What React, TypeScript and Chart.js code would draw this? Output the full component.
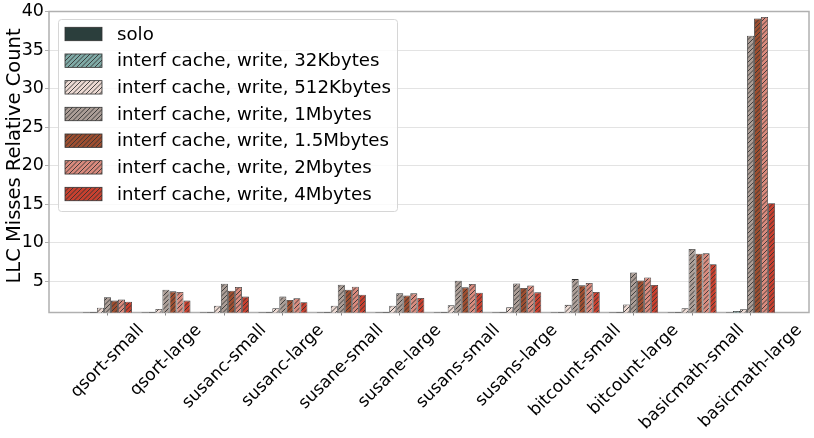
import React, { useEffect, useRef } from 'react';
import { Chart, registerables } from 'chart.js';

Chart.register(...registerables);

const categories = [
  'qsort-small', 'qsort-large', 'susanc-small', 'susanc-large',
  'susane-small', 'susane-large', 'susans-small', 'susans-large',
  'bitcount-small', 'bitcount-large', 'basicmath-small', 'basicmath-large',
];

const seriesNames = [
  'solo',
  'interf cache, write, 32Kbytes',
  'interf cache, write, 512Kbytes',
  'interf cache, write, 1Mbytes',
  'interf cache, write, 1.5Mbytes',
  'interf cache, write, 2Mbytes',
  'interf cache, write, 4Mbytes',
];

const solo = [1, 1, 1, 1, 1, 1, 1, 1, 1, 1, 1, 1];
const write32K = [1.02, 1.02, 1.02, 1.02, 1.02, 1.02, 1.02, 1.02, 1.02, 1.02, 1.02, 1.18];
const write512K = [1.6, 1.44, 1.86, 1.52, 1.86, 1.86, 1.9, 1.65, 1.96, 2.0, 1.53, 1.4];
const write1M = [2.94, 3.93, 4.7, 3.03, 4.57, 3.45, 5.09, 4.74, 5.3, 6.16, 9.2, 36.85];
const write1_5M = [2.51, 3.71, 3.8, 2.6, 3.93, 3.19, 4.23, 4.15, 4.49, 5.13, 8.6, 39.1];
const write2M = [2.64, 3.63, 4.28, 2.81, 4.31, 3.45, 4.66, 4.48, 4.79, 5.51, 8.65, 39.3];
const write4M = [2.38, 2.51, 3.03, 2.29, 3.28, 2.86, 3.54, 3.58, 3.63, 4.53, 7.23, 15.15];

const yTicks = [5, 10, 15, 20, 25, 30, 35, 40];
const yTitle = 'LLC Misses Relative Count';

const seriesValues = [solo, write32K, write512K, write1M, write1_5M, write2M, write4M];
const seriesColors = ['#2b3e3c', '#7faaa6', '#ecd9d2', '#ab9d96', '#9d4e30', '#d98a7d', '#c8402f'];
const seriesHatched = [false, true, true, true, true, true, true];

const FONT = "'DejaVu Sans', sans-serif";
const EDGE = '#333333';
const SPINE = '#b0b0b0';

function makeHatch(bg: string): CanvasPattern | string {
  const c = document.createElement('canvas');
  c.width = 9;
  c.height = 9;
  const g = c.getContext('2d');
  if (!g) return bg;
  g.fillStyle = bg;
  g.fillRect(0, 0, 9, 9);
  g.strokeStyle = EDGE;
  g.lineWidth = 0.9;
  for (const k of [0, 4.5, 9, 13.5, 18]) {
    g.beginPath();
    g.moveTo(-2, k + 2);
    g.lineTo(11, k - 11);
    g.stroke();
  }
  const p = g.createPattern(c, 'repeat');
  return p || bg;
}

const framePlugin = {
  id: 'frameAndLabels',
  beforeDatasetsDraw(chart: any) {
    const { ctx, chartArea } = chart;
    ctx.save();
    ctx.strokeStyle = SPINE;
    ctx.lineWidth = 1.5;
    ctx.strokeRect(chartArea.left, chartArea.top, chartArea.right - chartArea.left, chartArea.bottom - chartArea.top);
    ctx.restore();
  },
  afterDatasetsDraw(chart: any) {
    const { ctx, chartArea } = chart;
    ctx.save();
    // x tick labels, rotated 45 degrees and centred on the tick
    const xs = chart.scales.x;
    const fs = 17;
    ctx.font = `${fs}px ${FONT}`;
    ctx.fillStyle = '#000';
    ctx.textAlign = 'center';
    ctx.textBaseline = 'middle';
    const h = fs * 1.17;
    const y0 = chartArea.bottom + 8;
    categories.forEach((lab, i) => {
      const px = xs.getPixelForValue(i + 1);
      const w = ctx.measureText(lab).width;
      const half = ((w + h) * Math.SQRT1_2) / 2;
      ctx.save();
      ctx.translate(px, y0 + half);
      ctx.rotate(-Math.PI / 4);
      ctx.fillText(lab, 0, 0);
      ctx.restore();
    });

    // y axis title
    ctx.save();
    ctx.font = `19.5px ${FONT}`;
    ctx.textAlign = 'center';
    ctx.textBaseline = 'alphabetic';
    ctx.translate(20, 156);
    ctx.rotate(-Math.PI / 2);
    ctx.fillText(yTitle, 0, 0);
    ctx.restore();
    ctx.restore();
  },
  afterDraw(chart: any) {
    const { ctx } = chart;
    ctx.save();
    const x0 = 58.5, y0 = 19.5, w = 339, h = 192, r = 3;
    ctx.beginPath();
    ctx.moveTo(x0 + r, y0);
    ctx.arcTo(x0 + w, y0, x0 + w, y0 + h, r);
    ctx.arcTo(x0 + w, y0 + h, x0, y0 + h, r);
    ctx.arcTo(x0, y0 + h, x0, y0, r);
    ctx.arcTo(x0, y0, x0 + w, y0, r);
    ctx.closePath();
    ctx.fillStyle = 'rgba(255,255,255,0.8)';
    ctx.fill();
    ctx.strokeStyle = '#d6d6d6';
    ctx.lineWidth = 1;
    ctx.stroke();
    ctx.font = `18.2px ${FONT}`;
    ctx.textAlign = 'left';
    ctx.textBaseline = 'middle';
    chart.data.datasets.forEach((ds: any, i: number) => {
      const cy = 34 + i * 26.67;
      ctx.fillStyle = ds.backgroundColor;
      ctx.fillRect(65, cy - 6.7, 37, 13.4);
      ctx.strokeStyle = EDGE;
      ctx.lineWidth = 0.8;
      ctx.strokeRect(65, cy - 6.7, 37, 13.4);
      ctx.fillStyle = '#000';
      ctx.fillText(ds.label, 117, cy + 1);
    });
    ctx.restore();
  },
};

export default function App() {
  const ref = useRef<HTMLCanvasElement | null>(null);

  useEffect(() => {
    if (!ref.current) return;
    const labels = ['', ...categories, ''];
    const datasets = seriesNames.map((name, i) => ({
      label: name,
      data: [null, ...seriesValues[i], null],
      backgroundColor: seriesHatched[i] ? makeHatch(seriesColors[i]) : seriesColors[i],
      borderColor: EDGE,
      borderWidth: 0.8,
      borderSkipped: false,
      minBarLength: 2,
      categoryPercentage: 0.84,
      barPercentage: 1.0,
    }));
    const chart = new Chart(ref.current, {
      type: 'bar',
      data: { labels, datasets: datasets as any },
      options: {
        responsive: false,
        animation: false,
        layout: { padding: { top: 10, right: 5, left: 0, bottom: 0 } },
        plugins: {
          legend: { display: false },
          tooltip: { enabled: false },
        },
        scales: {
          x: {
            type: 'category',
            offset: false,
            grid: {
              display: true,
              offset: false,
              drawOnChartArea: false,
              drawTicks: true,
              tickLength: 3,
              color: '#888888',
            },
            border: { display: false },
            ticks: { display: false },
            afterBuildTicks: (scale: any) => {
              scale.ticks = categories.map((_, i) => ({ value: i + 1 }));
            },
            afterFit: (scale: any) => {
              scale.height = 125.5;
            },
          },
          y: {
            type: 'linear',
            min: 0.97,
            max: 40,
            bounds: 'data',
            grid: {
              color: '#e3e3e3',
              lineWidth: 1,
              tickLength: 4,
              tickColor: SPINE,
            },
            border: { display: false },
            ticks: {
              font: { family: FONT, size: 17.5 },
              color: '#000',
              padding: 1,
            },
            afterBuildTicks: (scale: any) => {
              scale.ticks = yTicks.map((v) => ({ value: v }));
            },
            afterFit: (scale: any) => {
              scale.width = 49;
            },
          },
        },
      },
      plugins: [framePlugin],
    });
    return () => chart.destroy();
  }, []);

  return (
    <div style={{ position: 'fixed', left: 0, top: 0, width: 814, height: 438, background: '#fff' }}>
      <canvas ref={ref} width={814} height={438} style={{ display: 'block' }} />
    </div>
  );
}
